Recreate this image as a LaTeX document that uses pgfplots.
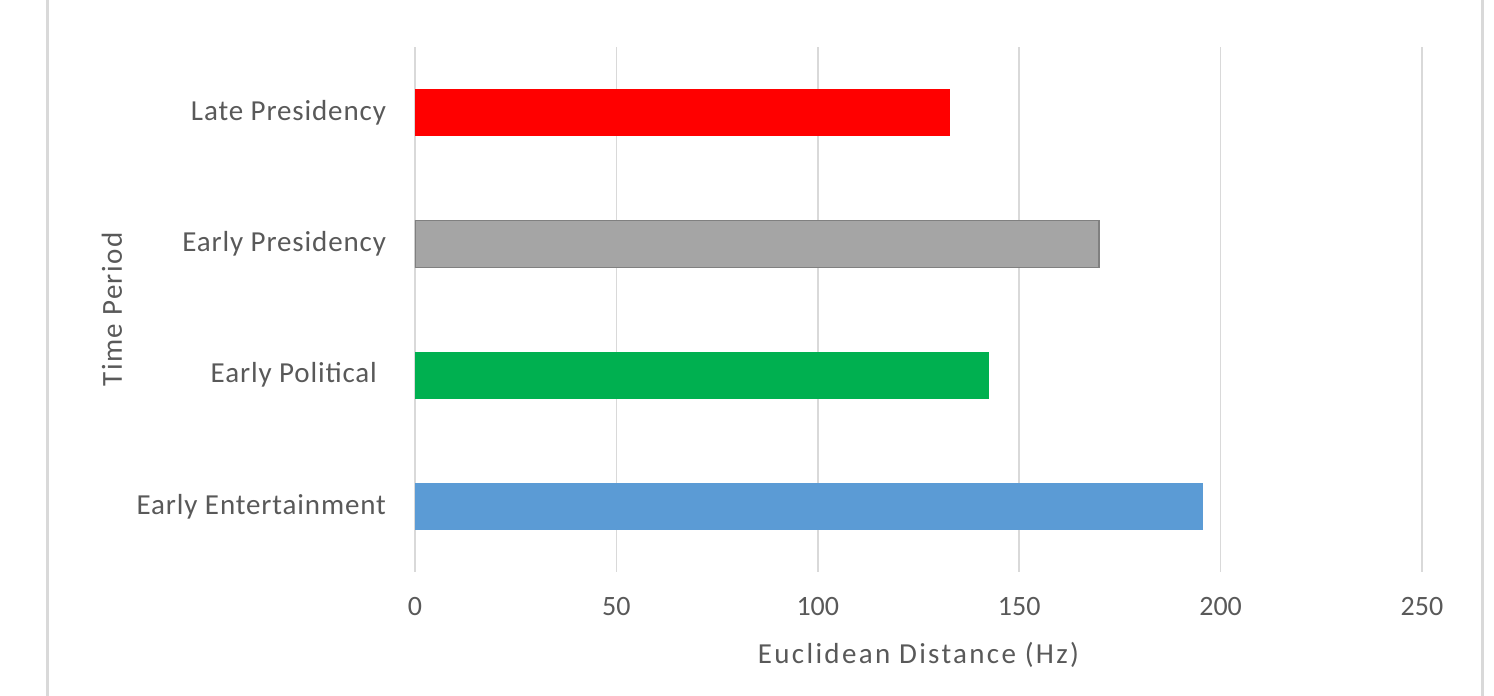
\documentclass[border=0pt]{standalone}
\usepackage{pgfplots}
\pgfplotsset{compat=1.18}
\usepackage{fontspec}
\setmainfont{Carlito}
\definecolor{txt}{HTML}{595959}
\definecolor{gridc}{HTML}{D9D9D9}
\definecolor{bred}{HTML}{FF0000}
\definecolor{bgray}{HTML}{A5A5A5}
\definecolor{bgreen}{HTML}{00B050}
\definecolor{bblue}{HTML}{5B9BD5}
\begin{document}
\begin{tikzpicture}
\path[use as bounding box] (0,0) rectangle (747pt,348pt);
\draw[gridc, line width=1.5pt] (23.5pt,0) -- (23.5pt,348pt);
\draw[gridc, line width=1.5pt] (741pt,0) -- (741pt,348pt);
\begin{axis}[
  at={(207.5pt,62pt)}, anchor=south west,
  scale only axis, width=503.5pt, height=262.5pt,
  xbar, bar width=23.5pt, bar shift=0pt,
  xmin=0, xmax=250, ymin=-0.5, ymax=3.5,
  xtick={0,50,100,150,200,250},
  ytick={0,1,2,3},
  yticklabels={Early Entertainment,{Early Political\rule{4.5pt}{0pt}},Early Presidency,Late Presidency},
  axis line style={draw=none},
  major tick length=0pt,
  xmajorgrids, grid style={gridc, line width=0.75pt},
  ymajorgrids=false,
  /pgf/number format/assume math mode=true,
  tick label style={font=\fontsize{14}{16}\selectfont, text=txt},
  xticklabel style={yshift=-9pt},
  yticklabel style={xshift=-11pt, font=\fontsize{14.5}{16}\selectfont\addfontfeature{LetterSpace=3}},
  xlabel={Euclidean Distance (Hz)},
  ylabel={Time Period},
  xlabel style={font=\fontsize{14.5}{16}\selectfont\addfontfeature{LetterSpace=8}, text=txt, at={(axis description cs:0.5,-0.158)}, anchor=center},
  ylabel style={font=\fontsize{14.5}{16}\selectfont\addfontfeature{LetterSpace=5}, text=txt, at={(axis description cs:-0.301,0.5)}, anchor=center},
]
\addplot[fill=bblue, draw=none] coordinates {(195.6,0)};
\addplot[fill=bgreen, draw=none] coordinates {(142.5,1)};
\addplot[fill=bgray, draw=black!50, line width=0.75pt] coordinates {(169.8,2)};
\addplot[fill=bred, draw=none] coordinates {(132.8,3)};
\end{axis}
\end{tikzpicture}
\end{document}
